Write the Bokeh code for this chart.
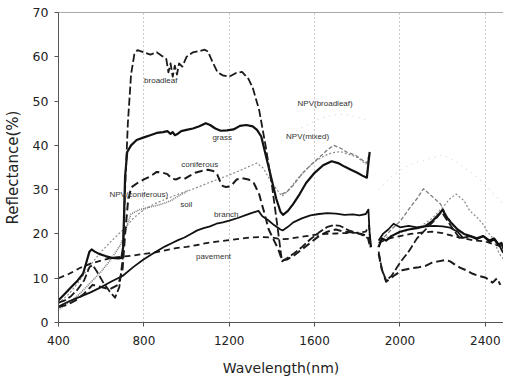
import numpy as np
from bokeh.plotting import figure
from bokeh.models import Range1d, Span, FixedTicker, ColumnDataSource
from bokeh.embed import file_html
from bokeh.resources import INLINE
from bokeh.core.properties import value

nan = float("nan")

# ---------------- data ----------------
broadleaf_wl = [400, 430, 460, 490, 520, 545, 560, 580, 610, 640, 665, 685, 700, 712, 725, 740, 755, 770, 800,
                830, 860, 885, 905, 915, 925, 935, 945, 955, 965, 980, 1000, 1030, 1060, 1085, 1100, 1120, 1145,
                1170, 1200, 1230, 1260, 1290, 1310, 1340, 1370, 1400, 1425, 1447, 1470, 1500, 1540, 1580, 1620,
                1660, 1690, 1720, 1760, 1800, 1830, 1850, 1860, nan,
                1900, 1915, 1935, 1960, 2000, 2040, 2080, 2120, 2160, 2195, 2215, 2250, 2280]
broadleaf_r = [4.5, 5, 6, 7.5, 9.5, 12.5, 13, 11.5, 9, 7, 5.6, 8, 14, 30, 45, 56, 60.5, 61.5, 61,
               60.5, 61, 60.2, 59.5, 56.5, 58.5, 55.5, 58, 56, 58.5, 57.8, 60, 61, 61.3, 61.6, 61.2, 59, 56.5,
               55.8, 55.5, 56.3, 56.6, 55, 53, 48, 40, 31, 22, 13.8, 14.5, 15.5, 17, 18.8, 20.3,
               21.6, 22, 21.8, 20.8, 20.2, 19.6, 19, 17, nan,
               16, 12, 9.5, 10.5, 13.5, 16, 19, 21, 23, 25, 23.5, 21, 19]

grass_wl = [400, 430, 460, 490, 515, 530, 545, 555, 570, 590, 620, 650, 680, 695, 703, 712, 722, 740, 766, 800,
            830, 860, 890, 910, 925, 935, 945, 955, 975, 1000, 1030, 1060, 1090, 1110, 1135, 1160, 1190, 1220,
            1250, 1280, 1310, 1330, 1350, 1370, 1395, 1420, 1440, 1452, 1475, 1500, 1530, 1560, 1600, 1640, 1680,
            1710, 1740, 1770, 1800, 1830, 1845, 1852, 1858, nan,
            1900, 1915, 1935, 1960, 2000, 2040, 2080, 2120, 2150, 2180, 2200, 2215, 2240, 2270, 2300, 2330, 2360,
            2390, 2420, 2440, 2460, 2475, 2490]
grass_r = [5, 6.5, 8, 9.5, 11, 13.5, 16, 16.5, 16, 15.5, 15, 14.6, 14.5, 14.6, 17, 33, 38.5, 40, 41.2, 41.8,
           42.3, 42.8, 43, 43.2, 42.6, 43, 42.3, 42.5, 43.2, 43.5, 43.8, 44.3, 45, 44.6, 43.8, 43.3, 43.4, 43.6,
           44.4, 44.6, 44.3, 43.5, 42, 38, 33, 28, 25, 24.3, 25.2, 26.8, 29, 31.5, 33.8, 35.5, 36.4,
           36, 35.2, 34.5, 33.8, 33, 32.7, 36, 38.5, nan,
           17, 19, 18.5, 19.5, 20.5, 21, 21.3, 21.8, 22.8, 24.3, 25.5, 24, 22.5, 21, 20, 19.5, 19,
           19.5, 18.5, 19, 17.5, 18, 16]

coniferous_wl = [400, 440, 480, 520, 560, 600, 640, 680, 700, 712, 725, 740, 770, 800, 830, 860, 890, 910, 930,
                 950, 970, 990, 1010, 1040, 1070, 1100, 1125, 1145, 1160, 1170, 1185, 1200, 1215, 1235, 1260, 1290,
                 1315, 1340, 1360, 1385, 1410, 1430, 1448, 1470, 1500, 1540, 1580, 1620, 1660, 1700, 1740, 1780,
                 1820, 1850, 1860, nan,
                 1900, 1915, 1935, 1970, 2010, 2050, 2090, 2120, 2150, 2180, 2210, 2235, 2260, 2281, 2310, 2341,
                 2370, 2402, 2434, 2455, 2470]
coniferous_r = [3.5, 4, 5, 6.5, 8.5, 8, 7.5, 8.5, 12, 20, 27, 30.5, 31.5, 32.3, 33, 34, 33.8, 33.5, 32.5,
                32.3, 32.7, 32.4, 33, 33.8, 34.2, 34.5, 34.2, 33.3, 31.5, 30.8, 30.6, 30.7, 31.2, 32.3, 32.6, 32.3,
                31.5, 29, 25.5, 21, 18.5, 16.5, 14, 14.2, 15, 16.5, 18, 19.5, 20.5, 21, 20.5, 20.3,
                20, 19.5, 18, nan,
                15.5, 12, 9.2, 10.5, 11.8, 12.2, 12.5, 12.8, 13.5, 13.8, 14.1, 13.8, 13, 12.4, 11.8, 11,
                10.5, 10.1, 9, 10, 8.5]

npv_broadleaf_wl = [1445, 1500, 1560, 1620, 1680, 1740, 1780, 1830, 1855, nan,
                    1900, 1960, 2020, 2080, 2140, 2200, 2260, 2300, 2341, 2390, 2440, 2480]
npv_broadleaf_r = [41, 43, 44.5, 46, 46.8, 47, 46.6, 46, 45.5, nan,
                   30, 33, 35, 36.2, 37, 37.8, 36.5, 35, 33.7, 31.5, 29, 27]

npv_mixed_wl = [1445, 1470, 1500, 1540, 1580, 1620, 1660, 1690, 1720, 1750, 1790, 1820, 1845, 1855, nan,
                1895, 1920, 1960, 2003, 2040, 2080, 2110, 2150, 2189, 2220, 2250, 2280]
npv_mixed_r = [29, 29.5, 31, 33.5, 35.5, 37.2, 39, 40, 39.4, 38.5, 37.8, 36.8, 36, 38, nan,
               17, 19, 21, 23, 25.5, 28, 30.2, 28.5, 26.8, 24, 22, 20.5]

npv_coniferous_wl = [400, 450, 500, 550, 600, 650, 700, 750, 800, 850, 900, 950, 1000, 1050, 1100, 1150, 1200,
                     1250, 1300, 1330, 1360, 1400, 1447, 1480, 1520, 1560, 1600, 1640, 1680, 1720, 1760, 1800,
                     1840, 1855, nan,
                     1900, 1950, 2000, 2050, 2100, 2150, 2200, 2235, 2263, 2300, 2327, 2360, 2388, 2410, 2434,
                     2466, 2490]
npv_coniferous_r = [4.3, 6.5, 9.5, 13, 16, 18.5, 20.8, 23.5, 25.5, 26.8, 27.8, 28.8, 29.6, 30.5, 31.5, 32.4, 33.3,
                    34.3, 35.4, 36, 34.8, 31.5, 28.5, 30, 32.5, 34.5, 36.3, 37.5, 38.3, 38.6, 38, 37.3,
                    35.8, 37, nan,
                    18.5, 19.5, 20.3, 21, 21.8, 23.5, 26, 28, 29, 27.5, 25.2, 23.8, 22.3, 20.5, 19.1,
                    15.5, 14]

soil_wl = [400, 450, 500, 550, 600, 650, 690, 710, 725, 740, 780, 820, 860, 900, 930, 950, 970, 990, 1005]
soil_r = [3, 4.5, 6.5, 9, 11.5, 14.5, 17.5, 20, 22.5, 24.5, 25.5, 26, 26.4, 27, 27.6, 28.2, 28.8, 29.3, 29.8]

branch_wl = [400, 450, 500, 550, 600, 650, 700, 750, 800, 850, 900, 930, 960, 990, 1020, 1050, 1080, 1110, 1140,
             1170, 1200, 1240, 1280, 1310, 1337, 1355, 1380, 1410, 1440, 1450, 1475, 1500, 1540, 1580, 1620, 1660,
             1700, 1740, 1780, 1810, 1840, 1852, 1858, 1865, nan,
             1900, 1920, 1945, 1970, 2000, 2040, 2080, 2120, 2160, 2200, 2235, 2270, 2295, 2330, 2360, 2390, 2420,
             2445, 2465, 2480, 2490]
branch_r = [3.6, 4.8, 5.8, 6.8, 8, 9.3, 10.5, 12.5, 14.3, 15.8, 17.2, 17.9, 18.6, 19.2, 20, 20.8, 21.3, 21.7, 22.3,
            22.6, 23, 23.6, 24.3, 24.8, 25.2, 24, 23.2, 22, 21, 20.8, 21.6, 22.6, 23.5, 24.2, 24.5, 24.7,
            24.6, 24.3, 24.4, 24.2, 24.5, 25.5, 20, 17, nan,
            18.5, 20, 21, 22.3, 21.5, 21.8, 21.5, 21.7, 21.8, 21.7, 21.4, 20.5, 19.1, 19.5, 18.8, 19.5, 18.2,
            18.8, 17.5, 16, 15.5]

pavement_wl = [400, 450, 500, 550, 600, 650, 700, 750, 800, 850, 900, 950, 1000, 1050, 1100, 1150, 1200, 1250,
               1300, 1350, 1400, 1440, 1480, 1520, 1560, 1600, 1650, 1700, 1750, 1800, 1840, 1855, 1862, nan,
               1900, 1950, 2000, 2050, 2100, 2150, 2200, 2250, 2300, 2350, 2400, 2450, 2490]
pavement_r = [10, 11, 12.3, 13.3, 14, 14.6, 14.9, 15.1, 15.5, 15.8, 16.3, 16.8, 17.1, 17.5, 18, 18.3, 18.6, 18.9,
              19.2, 19.3, 19.2, 18.8, 18.9, 19.2, 19.5, 19.8, 20, 20.1, 20.2, 20.3, 20.5, 22, 17, nan,
              18, 19, 19.5, 20, 20.3, 20.5, 20.2, 19.5, 19, 18.5, 18.3, 17.5, 17]

label_texts = ["broadleaf", "grass", "coniferous", "NPV(coniferous)", "soil", "branch", "pavement",
               "NPV(broadleaf)", "NPV(mixed)"]
label_wl = [801, 1121, 975, 639, 971, 1129, 1044, 1520, 1466]
label_r = [54.7, 41.8, 35.6, 28.9, 26.7, 24.4, 15.0, 49.5, 42.0]

x_ticks = [400, 800, 1200, 1600, 2000, 2400]
y_ticks = [0, 10, 20, 30, 40, 50, 60, 70]

# ---------------- figure ----------------
p = figure(width=503, height=378, output_backend="svg", toolbar_location=None,
           x_range=Range1d(400, 2485), y_range=Range1d(0, 70),
           min_border_left=52, min_border_right=0, min_border_top=12, min_border_bottom=56)
p.outline_line_color = None
p.background_fill_color = "white"
p.border_fill_color = "white"

p.ygrid.grid_line_color = None
p.xgrid.ticker = FixedTicker(ticks=x_ticks)
p.xgrid.grid_line_color = "#9a9a9a"
p.xgrid.grid_line_dash = "1 3"
p.xgrid.grid_line_width = 1

p.xaxis.ticker = FixedTicker(ticks=x_ticks)
p.yaxis.ticker = FixedTicker(ticks=y_ticks)
for ax in (p.xaxis, p.yaxis):
    ax.axis_line_color = "#555555"
    ax.major_tick_line_color = "#555555"
    ax.minor_tick_line_color = None
    ax.major_tick_in = 0
    ax.major_tick_out = 4
    ax.major_label_text_font = "DejaVu Sans"
    ax.major_label_text_color = "#222222"
    ax.axis_label_text_font = "DejaVu Sans"
    ax.axis_label_text_font_style = "normal"
    ax.axis_label_text_color = "#222222"
p.xaxis.major_label_text_font_size = "12px"
p.yaxis.major_label_text_font_size = "12.5px"
p.xaxis.axis_label = "Wavelength(nm)"
p.yaxis.axis_label = "Reflectance(%)"
p.xaxis.axis_label_text_font_size = "14px"
p.yaxis.axis_label_text_font_size = "15px"
p.xaxis.major_label_standoff = 9
p.yaxis.major_label_standoff = 6
p.xaxis.axis_label_standoff = 12
p.yaxis.axis_label_standoff = 8

p.add_layout(Span(location=70, dimension="width", line_color="#555555", line_width=1))

series = [
    (npv_broadleaf_wl, npv_broadleaf_r, "#d6d6d6", 1.1, "1 5"),
    (soil_wl, soil_r, "#7a7a7a", 1.6, "1 1"),
    (npv_coniferous_wl, npv_coniferous_r, "#8c8c8c", 1.2, "2 2"),
    (npv_mixed_wl, npv_mixed_r, "#7c7c7c", 1.3, "4 2"),
    (pavement_wl, pavement_r, "#1a1a1a", 1.8, "6 4"),
    (branch_wl, branch_r, "#111111", 1.8, "solid"),
    (coniferous_wl, coniferous_r, "#1a1a1a", 2.0, "8 4"),
    (grass_wl, grass_r, "#111111", 2.2, "solid"),
    (broadleaf_wl, broadleaf_r, "#1a1a1a", 1.8, "8 3"),
]
for wl, r, col, w, dash in series:
    p.line(np.array(wl, dtype=float), np.array(r, dtype=float), line_color=col, line_width=w,
           line_dash=dash, line_join="round")

lab_src = ColumnDataSource(dict(x=label_wl, y=label_r, t=label_texts))
p.text(x="x", y="y", text="t", source=lab_src, text_font=value("Liberation Sans"),
       text_font_size="8px", text_color="#333333", text_align="left", text_baseline="middle")

open("out.html", "w").write(file_html(p, INLINE))
